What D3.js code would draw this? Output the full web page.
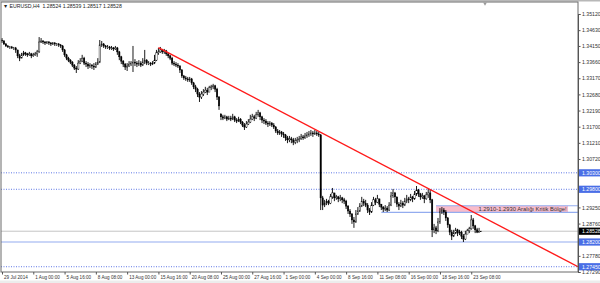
<!DOCTYPE html>
<html>
<head>
<meta charset="utf-8">
<script src="https://cdn.jsdelivr.net/npm/d3@7"></script>
<style>
  body { margin: 0; background: #fff; }
  svg { display: block; font-family: "Liberation Sans", Arial, sans-serif; }
</style>
</head>
<body>
<div id="chart"></div>
<script>
// EURUSD H4 bars, 29 Jul 2014 08:00 -> 24 Sep 2014 04:00
const closes = [
  1.3430,1.3421,1.3415,1.3412,1.3412,1.3409,1.3409,1.3403,1.3385,1.3378,
  1.3388,1.3394,1.3391,1.3388,1.3391,1.3385,1.3388,1.3391,1.3397,1.3427,
  1.3430,1.3427,1.3424,1.3427,1.3424,1.3421,1.3424,1.3421,1.3421,1.3418,
  1.3415,1.3403,1.3388,1.3378,1.3372,1.3366,1.3357,1.3348,1.3345,1.3363,
  1.3369,1.3378,1.3363,1.3360,1.3354,1.3357,1.3354,1.3351,1.3360,1.3366,
  1.3418,1.3421,1.3415,1.3412,1.3412,1.3409,1.3409,1.3406,1.3409,1.3397,
  1.3382,1.3369,1.3360,1.3351,1.3354,1.3360,1.3363,1.3366,1.3363,1.3360,
  1.3363,1.3357,1.3366,1.3372,1.3363,1.3363,1.3360,1.3363,1.3372,1.3394,
  1.3397,1.3403,1.3397,1.3400,1.3391,1.3385,1.3378,1.3363,1.3360,1.3357,
  1.3354,1.3342,1.3324,1.3318,1.3315,1.3312,1.3315,1.3303,1.3291,1.3284,
  1.3269,1.3260,1.3269,1.3275,1.3281,1.3275,1.3288,1.3291,1.3294,1.3284,
  1.3260,1.3233,1.3200,1.3196,1.3200,1.3193,1.3196,1.3193,1.3200,1.3190,
  1.3187,1.3193,1.3184,1.3175,1.3169,1.3178,1.3184,1.3193,1.3200,1.3196,
  1.3206,1.3212,1.3200,1.3190,1.3187,1.3181,1.3178,1.3181,1.3175,1.3169,
  1.3157,1.3151,1.3154,1.3148,1.3145,1.3136,1.3130,1.3133,1.3130,1.3123,
  1.3127,1.3130,1.3133,1.3139,1.3136,1.3142,1.3145,1.3148,1.3151,1.3148,
  1.3151,1.3148,1.3145,1.2954,1.2932,1.2938,1.2944,1.2938,1.2957,1.2969,
  1.2954,1.2957,1.2951,1.2954,1.2948,1.2944,1.2929,1.2914,1.2905,1.2887,
  1.2881,1.2905,1.2914,1.2929,1.2944,1.2938,1.2932,1.2917,1.2911,1.2932,
  1.2948,1.2941,1.2951,1.2935,1.2926,1.2920,1.2923,1.2917,1.2932,1.2960,
  1.2969,1.2957,1.2935,1.2929,1.2938,1.2932,1.2944,1.2951,1.2948,1.2957,
  1.2951,1.2966,1.2978,1.2966,1.2957,1.2960,1.2951,1.2963,1.2969,1.2948,
  1.2857,1.2863,1.2854,1.2881,1.2911,1.2917,1.2911,1.2893,1.2872,1.2850,
  1.2838,1.2847,1.2857,1.2847,1.2850,1.2838,1.2829,1.2844,1.2854,1.2860,
  1.2887,1.2869,1.2857,1.2850,1.28524,1.28528
];
const highs = [
  1.3439,1.3433,1.3424,1.3418,1.3415,1.3415,1.3412,1.3412,1.3403,1.3391,
  1.3394,1.3400,1.3397,1.3394,1.3397,1.3394,1.3394,1.3397,1.3403,1.3442,
  1.3439,1.3433,1.3430,1.3430,1.3430,1.3427,1.3427,1.3427,1.3424,1.3424,
  1.3421,1.3418,1.3406,1.3391,1.3382,1.3375,1.3369,1.3360,1.3354,1.3372,
  1.3378,1.3388,1.3382,1.3369,1.3366,1.3363,1.3360,1.3363,1.3366,1.3378,
  1.3433,1.3430,1.3424,1.3418,1.3418,1.3415,1.3415,1.3412,1.3415,1.3412,
  1.3400,1.3385,1.3372,1.3363,1.3363,1.3369,1.3369,1.3415,1.3375,1.3369,
  1.3372,1.3369,1.3378,1.3403,1.3375,1.3369,1.3366,1.3369,1.3388,1.3403,
  1.3409,1.3412,1.3406,1.3406,1.3403,1.3394,1.3388,1.3382,1.3369,1.3366,
  1.3363,1.3357,1.3345,1.3327,1.3324,1.3321,1.3321,1.3318,1.3306,1.3297,
  1.3288,1.3275,1.3278,1.3284,1.3291,1.3288,1.3294,1.3297,1.3300,1.3297,
  1.3288,1.3263,1.3209,1.3206,1.3206,1.3203,1.3203,1.3203,1.3209,1.3203,
  1.3196,1.3200,1.3196,1.3187,1.3181,1.3187,1.3193,1.3206,1.3209,1.3206,
  1.3215,1.3221,1.3215,1.3203,1.3196,1.3193,1.3187,1.3187,1.3184,1.3181,
  1.3172,1.3163,1.3160,1.3157,1.3154,1.3148,1.3142,1.3142,1.3139,1.3136,
  1.3136,1.3139,1.3142,1.3148,1.3145,1.3151,1.3154,1.3157,1.3160,1.3157,
  1.3160,1.3157,1.3154,1.3148,1.2960,1.2948,1.2951,1.2948,1.2966,1.2984,
  1.2969,1.2963,1.2960,1.2963,1.2957,1.2954,1.2948,1.2932,1.2920,1.2908,
  1.2896,1.2917,1.2926,1.2938,1.2957,1.2951,1.2948,1.2938,1.2923,1.2941,
  1.2957,1.2954,1.2963,1.2951,1.2935,1.2929,1.2932,1.2929,1.2941,1.2972,
  1.2981,1.2972,1.2957,1.2941,1.2948,1.2944,1.2954,1.2963,1.2957,1.2966,
  1.2960,1.2975,1.2990,1.2981,1.2969,1.2969,1.2963,1.2972,1.2981,1.2978,
  1.2951,1.2875,1.2869,1.2893,1.2923,1.2926,1.2923,1.2917,1.2896,1.2875,
  1.2857,1.2857,1.2863,1.2860,1.2857,1.2854,1.2844,1.2854,1.2860,1.2866,
  1.2902,1.2893,1.2872,1.2863,1.2863,1.28539
];
const lows = [
  1.3424,1.3418,1.3412,1.3409,1.3406,1.3406,1.3403,1.3394,1.3378,1.3369,
  1.3378,1.3385,1.3385,1.3382,1.3385,1.3378,1.3382,1.3385,1.3382,1.3394,
  1.3424,1.3421,1.3418,1.3421,1.3418,1.3415,1.3418,1.3415,1.3415,1.3412,
  1.3409,1.3397,1.3382,1.3372,1.3366,1.3360,1.3351,1.3342,1.3333,1.3342,
  1.3360,1.3366,1.3357,1.3351,1.3345,1.3348,1.3345,1.3342,1.3348,1.3357,
  1.3363,1.3412,1.3409,1.3406,1.3406,1.3403,1.3403,1.3400,1.3403,1.3388,
  1.3372,1.3360,1.3351,1.3342,1.3339,1.3351,1.3354,1.3336,1.3354,1.3351,
  1.3354,1.3351,1.3354,1.3360,1.3357,1.3357,1.3354,1.3357,1.3360,1.3369,
  1.3388,1.3394,1.3391,1.3391,1.3385,1.3378,1.3372,1.3357,1.3354,1.3351,
  1.3348,1.3333,1.3318,1.3312,1.3309,1.3306,1.3306,1.3297,1.3284,1.3275,
  1.3260,1.3245,1.3254,1.3263,1.3272,1.3266,1.3275,1.3281,1.3284,1.3275,
  1.3251,1.3221,1.3190,1.3190,1.3193,1.3187,1.3190,1.3187,1.3190,1.3184,
  1.3181,1.3184,1.3178,1.3169,1.3160,1.3166,1.3175,1.3181,1.3190,1.3187,
  1.3193,1.3200,1.3190,1.3181,1.3178,1.3175,1.3169,1.3172,1.3169,1.3163,
  1.3151,1.3145,1.3145,1.3139,1.3136,1.3127,1.3120,1.3123,1.3120,1.3114,
  1.3117,1.3120,1.3123,1.3130,1.3130,1.3133,1.3136,1.3139,1.3142,1.3139,
  1.3145,1.3142,1.3139,1.2917,1.2917,1.2926,1.2932,1.2932,1.2935,1.2951,
  1.2944,1.2948,1.2941,1.2944,1.2938,1.2935,1.2920,1.2905,1.2896,1.2875,
  1.2863,1.2878,1.2902,1.2911,1.2926,1.2929,1.2926,1.2908,1.2902,1.2908,
  1.2929,1.2932,1.2938,1.2926,1.2917,1.2911,1.2914,1.2911,1.2914,1.2929,
  1.2954,1.2938,1.2926,1.2917,1.2926,1.2923,1.2929,1.2938,1.2938,1.2944,
  1.2941,1.2948,1.2960,1.2957,1.2948,1.2951,1.2938,1.2948,1.2954,1.2938,
  1.2835,1.2847,1.2844,1.2850,1.2875,1.2905,1.2902,1.2884,1.2863,1.2841,
  1.2826,1.2835,1.2844,1.2838,1.2841,1.2829,1.2820,1.2826,1.2844,1.2847,
  1.2857,1.2860,1.2847,1.2847,1.2848,1.28517
];
const firstOpen = 1.3433;

// time axis: a label every 16 bars
const dateTickBars = [0,16,32,48,64,80,96,112,128,144,160,176,192,208,224,240];
const dateLabels = ["29 Jul 2014","1 Aug 00:00","5 Aug 16:00","8 Aug 08:00","13 Aug 00:00",
  "15 Aug 16:00","20 Aug 08:00","25 Aug 00:00","27 Aug 16:00","1 Sep 00:00","4 Sep 00:00",
  "8 Sep 16:00","11 Sep 08:00","16 Sep 00:00","18 Sep 16:00","23 Sep 08:00"];

// price axis (labels that sit under a price tag are left out)
const priceTickLabels = ["1.35120","1.34630","1.34150","1.33660","1.33170","1.32680","1.32190",
  "1.31700","1.31210","1.30720","1.29250","1.28760","1.27780","1.27290"];

// drawn objects
const dottedLevels = [1.30300, 1.29800, 1.27450];
const solidLevels = [1.28200];
const bidPrice = 1.28528;
const zoneLow = 1.2910, zoneHigh = 1.2930;
const zoneLowStartBar = 194, zoneStartBar = 222, zoneEndBar = 289.5;
const zoneText = "1.2910-1.2930 Aralığı Kritik Bölge!";
const trendBars = [80, 294.6];
const trendPrices = [1.3410, 1.2745];
const titleText = "\u25BC EURUSD,H4  1.28524 1.28539 1.28517 1.28528";

const W = 600, H = 283;
const plotLeft = 1, plotTop = 2, plotRight = 578, plotBottom = 272;

const bars = closes.map((c, i) => {
  const prev = i === 0 ? firstOpen : closes[i - 1];
  const open = Math.max(lows[i], Math.min(highs[i], prev));
  return { i: i, open: open, high: highs[i], low: lows[i], close: c };
});

const x = d3.scaleLinear().domain([0, 294.6]).range([2, plotRight]);
const y = d3.scaleLinear().domain([1.27290, 1.35120]).range([plotBottom, 14]);

const svg = d3.select("#chart").append("svg")
  .attr("width", W).attr("height", H);

svg.append("rect").attr("width", W).attr("height", H).attr("fill", "#fff");
svg.append("rect").attr("x", 0).attr("y", 0).attr("width", W).attr("height", 1.5).attr("fill", "#b8b8b8");
svg.append("rect").attr("x", 0).attr("y", 280.5).attr("width", W).attr("height", 2.5).attr("fill", "#ececec");

svg.append("clipPath").attr("id", "plot-clip")
  .append("rect")
  .attr("x", plotLeft).attr("y", plotTop)
  .attr("width", plotRight - plotLeft).attr("height", plotBottom - plotTop);

const plot = svg.append("g").attr("clip-path", "url(#plot-clip)");

// critical zone rectangle
plot.append("rect")
  .attr("x", x(zoneStartBar))
  .attr("y", y(zoneHigh))
  .attr("width", x(zoneEndBar) - x(zoneStartBar))
  .attr("height", y(zoneLow) - y(zoneHigh))
  .attr("fill", "#f8bccb");

// bid line
plot.append("line")
  .attr("x1", plotLeft).attr("x2", plotRight)
  .attr("y1", y(bidPrice)).attr("y2", y(bidPrice))
  .attr("stroke", "#c4c4c4").attr("stroke-width", 1);

// solid blue levels
plot.selectAll(".solid-level")
  .data(solidLevels)
  .join("line")
  .attr("class", "solid-level")
  .attr("x1", plotLeft).attr("x2", plotRight)
  .attr("y1", d => y(d)).attr("y2", d => y(d))
  .attr("stroke", "#93acef").attr("stroke-width", 1.2);

// zone border lines
plot.append("line")
  .attr("x1", x(zoneLowStartBar)).attr("x2", plotRight)
  .attr("y1", y(zoneLow)).attr("y2", y(zoneLow))
  .attr("stroke", "#93acef").attr("stroke-width", 1.2);
plot.append("line")
  .attr("x1", x(zoneStartBar)).attr("x2", plotRight)
  .attr("y1", y(zoneHigh)).attr("y2", y(zoneHigh))
  .attr("stroke", "#93acef").attr("stroke-width", 1.2);

// dotted blue levels
plot.selectAll(".dotted-level")
  .data(dottedLevels)
  .join("line")
  .attr("class", "dotted-level")
  .attr("x1", plotLeft).attr("x2", plotRight)
  .attr("y1", d => y(d)).attr("y2", d => y(d))
  .attr("stroke", "#5f78e6").attr("stroke-width", 1)
  .attr("stroke-dasharray", "1,1.5");

// candles
const candle = plot.append("g").selectAll("g")
  .data(bars)
  .join("g");

candle.append("line")
  .attr("x1", d => x(d.i)).attr("x2", d => x(d.i))
  .attr("y1", d => y(d.high)).attr("y2", d => y(d.low))
  .attr("stroke", "#000").attr("stroke-width", 0.9);

candle.append("rect")
  .attr("x", d => x(d.i) - 0.7)
  .attr("width", 1.4)
  .attr("y", d => y(Math.max(d.open, d.close)))
  .attr("height", d => Math.max(0.6, Math.abs(y(d.open) - y(d.close))))
  .attr("fill", d => d.close >= d.open ? "#fff" : "#000")
  .attr("stroke", "#000").attr("stroke-width", 0.4);

// trend line
plot.append("line")
  .attr("x1", x(trendBars[0])).attr("y1", y(trendPrices[0]))
  .attr("x2", x(trendBars[1])).attr("y2", y(trendPrices[1]))
  .attr("stroke", "#ff1a1a").attr("stroke-width", 1.4);

// zone label
plot.append("text")
  .attr("x", x(zoneEndBar) - 1.5)
  .attr("y", (y(zoneHigh) + y(zoneLow)) / 2 + 2)
  .attr("text-anchor", "end")
  .attr("font-size", 5.8)
  .attr("fill", "#333")
  .text(zoneText);

// frame
svg.append("rect")
  .attr("x", plotLeft).attr("y", plotTop)
  .attr("width", plotRight - plotLeft).attr("height", plotBottom - plotTop)
  .attr("fill", "none").attr("stroke", "#6a6a6a").attr("stroke-width", 1);

// chart shift marker
svg.append("path")
  .attr("d", d3.symbol().type(d3.symbolTriangle).size(6))
  .attr("transform", "translate(485,3.5) rotate(180)")
  .attr("fill", "#999");

// price axis
const yAxis = d3.axisRight(y)
  .tickValues(priceTickLabels.map(Number))
  .tickFormat((d, i) => priceTickLabels[i])
  .tickSize(2.5).tickPadding(1.5);
const yAxisG = svg.append("g")
  .attr("transform", `translate(${plotRight},0)`)
  .call(yAxis);
yAxisG.select(".domain").attr("stroke", "#555");
yAxisG.selectAll(".tick line").attr("stroke", "#555");
yAxisG.selectAll(".tick text")
  .attr("font-size", 5.2).attr("fill", "#333")
  .attr("font-family", "Liberation Sans, Arial, sans-serif");

// time axis
const xAxis = d3.axisBottom(x)
  .tickValues(dateTickBars)
  .tickFormat((d, i) => dateLabels[i])
  .tickSize(2.5).tickPadding(1.2);
const xAxisG = svg.append("g")
  .attr("transform", `translate(0,${plotBottom})`)
  .call(xAxis);
xAxisG.select(".domain").remove();
xAxisG.selectAll(".tick line").attr("stroke", "#555");
xAxisG.selectAll(".tick text")
  .attr("text-anchor", "start").attr("dx", 1.5)
  .attr("font-size", 4.6).attr("fill", "#333")
  .attr("font-family", "Liberation Sans, Arial, sans-serif");

// price labels on the axis
const tagData = dottedLevels.concat(solidLevels).map(p => ({ p: p, fill: "#4a6ee6" }))
  .concat([{ p: bidPrice, fill: "#000" }]);
const tags = svg.append("g").selectAll("g")
  .data(tagData)
  .join("g")
  .attr("transform", d => `translate(${plotRight + 1},${y(d.p)})`);
tags.append("rect")
  .attr("x", 0).attr("y", -3.6)
  .attr("width", 21).attr("height", 7.2)
  .attr("fill", d => d.fill);
tags.append("text")
  .attr("x", 3).attr("y", 1.9)
  .attr("font-size", 5.2).attr("fill", "#fff")
  .text(d => d.p.toFixed(5));

// title
svg.append("text")
  .attr("x", 3).attr("y", 8)
  .attr("font-size", 5.2).attr("fill", "#222")
  .attr("xml:space", "preserve")
  .text(titleText);
</script>
</body>
</html>
